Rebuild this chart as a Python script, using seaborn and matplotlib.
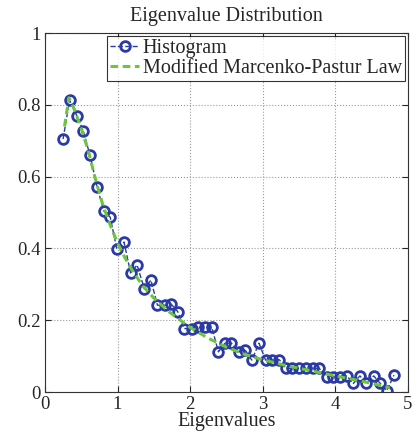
import numpy as np
import pandas as pd
import matplotlib
matplotlib.use("Agg")
import matplotlib.pyplot as plt
import seaborn as sns

# histogram bin centres and normalised counts
hist_x = [0.25, 0.34, 0.44, 0.53, 0.62, 0.72, 0.81, 0.90, 0.99, 1.09,
          1.18, 1.27, 1.37, 1.46, 1.55, 1.65, 1.74, 1.83, 1.92, 2.02,
          2.11, 2.20, 2.30, 2.39, 2.48, 2.57, 2.67, 2.76, 2.85, 2.95,
          3.04, 3.13, 3.23, 3.32, 3.41, 3.50, 3.60, 3.69, 3.78, 3.88,
          3.97, 4.06, 4.16, 4.25, 4.34, 4.43, 4.53, 4.62, 4.71, 4.81]
hist_y = [0.705, 0.813, 0.770, 0.727, 0.660, 0.571, 0.505, 0.487, 0.398, 0.418,
          0.332, 0.354, 0.287, 0.312, 0.242, 0.242, 0.245, 0.224, 0.177, 0.177,
          0.180, 0.180, 0.180, 0.112, 0.136, 0.136, 0.112, 0.117, 0.089, 0.136,
          0.089, 0.089, 0.090, 0.066, 0.066, 0.066, 0.066, 0.066, 0.066, 0.043,
          0.043, 0.043, 0.045, 0.024, 0.045, 0.024, 0.045, 0.024, 0.004, 0.047]

# modified Marcenko-Pastur curve, sampled by eye
mp_x = [0.27, 0.33, 0.40, 0.50, 0.60, 0.70, 0.80, 0.90, 1.00, 1.10,
        1.20, 1.35, 1.50, 1.70, 2.00, 2.25, 2.50, 2.75, 3.00, 3.30,
        3.60, 4.00, 4.30, 4.55, 4.75]
mp_y = [0.740, 0.820, 0.790, 0.735, 0.670, 0.590, 0.520, 0.465, 0.415, 0.375,
        0.340, 0.295, 0.262, 0.225, 0.180, 0.150, 0.125, 0.105, 0.090, 0.075,
        0.062, 0.045, 0.033, 0.022, 0.012]

hist_df = pd.DataFrame({"x": hist_x, "y": hist_y})
mp_df = pd.DataFrame({"x": mp_x, "y": mp_y})

sns.set_theme(style="ticks")
plt.rcParams["font.family"] = ["Liberation Serif", "DejaVu Serif"]

BLUE = "#2b3aa6"
GREEN = "#6cc63a"

fig = plt.figure(figsize=(4.2, 4.42), dpi=100)
ax = fig.add_axes([0.107, 0.113, 0.864, 0.812])

sns.lineplot(data=hist_df, x="x", y="y", ax=ax, color=BLUE, linestyle="--",
             linewidth=1.0, marker="o", markersize=7, markerfacecolor="none",
             markeredgecolor=BLUE, markeredgewidth=2.0, label="Histogram",
             sort=False, estimator=None)
sns.lineplot(data=mp_df, x="x", y="y", ax=ax, color=GREEN,
             linewidth=2.2, dashes=False, label="Modified Marcenko-Pastur Law",
             sort=False, estimator=None)
ax.lines[-1].set_dashes([2.5, 1.5])

ax.set_xlim(0, 5)
ax.set_ylim(0, 1)
ax.set_xticks([0, 1, 2, 3, 4, 5])
ax.set_yticks([0, 0.2, 0.4, 0.6, 0.8, 1])
ax.set_yticklabels(["0", "0.2", "0.4", "0.6", "0.8", "1"])
ax.tick_params(direction="in", labelsize=13.5, length=4, width=0.8,
               top=True, right=True, pad=3)
ax.grid(True, linestyle=":", color="#9a9a9a", linewidth=0.8)
for s in ax.spines.values():
    s.set_linewidth(0.8)
    s.set_color("#333333")

ax.set_title("Eigenvalue Distribution", fontsize=14.5, pad=9)
ax.set_xlabel("Eigenvalues", fontsize=14.5, labelpad=-1)
ax.set_ylabel("")

leg = ax.legend(loc="upper right", fontsize=14.5, frameon=True, fancybox=False,
                borderaxespad=0.15, handlelength=1.4, handletextpad=0.2,
                borderpad=0.15, labelspacing=0.05)
leg.get_frame().set_edgecolor("black")
leg.get_frame().set_linewidth(0.8)

fig.savefig("out.png", dpi=100)
